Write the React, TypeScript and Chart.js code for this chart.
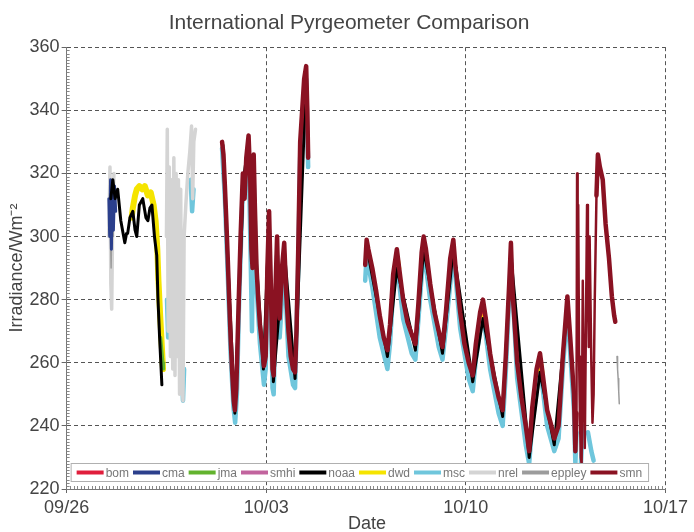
import React, { useEffect, useRef } from "react";
import { Chart, registerables } from "chart.js";

Chart.register(...registerables);

// Time axis: days since 09/26 00:00
const tickDays = [0, 7, 14, 21];
const tickLabels = ["09/26", "10/03", "10/10", "10/17"];
const yTicks = [220, 240, 260, 280, 300, 320, 340, 360];
const xTitle = "Date";

// ---- instrument records (day, W/m²); null breaks the trace ----
const bomDays = [6.34, 6.38, 6.42, 6.9, 11.54, 11.58, 11.62, 12.0, 14.56, 14.6, 14.64, 15.0, 16.56, 16.6, 16.64];
const bomVals = [326, 330, 324, null, 292, 294, 291, null, 276, 278, 275, null, 259, 261, 258];

const cmaDays = [1.48, 1.51, 1.54, 1.57, 1.6, 1.64, 1.68, 1.72];
const cmaVals = [312, 300, 318, 296, 315, 302, 316, 308];

const jmaDays = [3.3, 3.34, 3.38, 3.4];
const jmaVals = [268, 264, 260, 258];

const smhiDays = [12.48, 12.52, 12.56, 13.0, 13.52, 13.56, 13.6];
const smhiVals = [297, 298, 295, null, 296, 297, 294];

const noaaDays = [
  1.55, 1.62, 1.7, 1.79, 1.9, 2.0, 2.04, 2.1, 2.14, 2.22, 2.32, 2.4, 2.46, 2.55, 2.67, 2.78, 2.85, 2.92,
  2.99, 3.08, 3.16, 3.2, 3.26, 3.34, 4.0,
  5.48, 5.6, 5.9, 6.2, 6.38, 6.9, 7.1, 7.25, 7.63, 8.01, 8.4, 9.0,
  10.52, 11.25, 11.58, 12.23, 12.52, 13.18, 13.56, 14.24, 14.6, 15.29, 15.58, 16.22, 16.6, 17.1, 17.56,
];
const noaaVals = [
  312, 318, 312, 315, 305, 300, 298, 301, 301, 306, 308, 302, 300, 310, 312, 306, 305, 309,
  310, 300, 294, 281, 268, 253, null,
  329, 302, 244, 318, 330, 258, 305, 254, 296, 255, 352, null,
  297, 262, 290, 264, 296, 263, 296, 254, 274, 243, 294, 230, 257, 234, 278,
];

const dwdDays = [
  2.28, 2.32, 2.4, 2.46, 2.55, 2.65, 2.74, 2.85, 2.95, 3.05, 3.12, 3.18, 3.22, 3.28, 3.34, 3.38, 4.0,
  11.53, 11.58, 11.63, 12.0, 14.55, 14.6, 14.65, 15.0, 16.55, 16.6, 16.65,
];
const dwdVals = [
  306, 309, 313, 315, 316, 315, 316, 313, 314, 310, 305, 296, 286, 275, 265, 258, null,
  290, 293, 290, null, 275, 277, 274, null, 258, 260, 257,
];

const mscDays = [
  3.52, 3.56, 3.62, 3.7, 3.78, 3.86, 3.95, 4.02, 4.08, 4.12, 4.2, 4.35, 4.4, 4.45, 5.0,
  5.45, 5.55, 5.65, 5.75, 5.85, 5.91, 5.97, 6.05, 6.18, 6.3, 6.38, 6.46, 6.5, 6.56, 6.66, 6.78, 6.92,
  6.98, 7.1, 7.22, 7.26, 7.38, 7.47, 7.63, 7.78, 7.94, 8.01, 8.12, 8.19, 8.3, 8.4, 8.47, 9.0,
  10.47, 10.52, 10.72, 10.98, 11.25, 11.34, 11.45, 11.58, 11.8, 12.1, 12.23, 12.33, 12.52, 12.75,
  13.05, 13.18, 13.3, 13.56, 13.8, 14.1, 14.24, 14.35, 14.6, 14.85, 15.15, 15.29, 15.4, 15.58, 15.8,
  16.1, 16.22, 16.33, 16.6, 16.85, 17.1, 17.25, 17.4, 17.56, 17.79, 17.84, 17.88, 18.0, 18.03, 18.1,
  18.2, 18.28, 18.4, 18.48,
];
const mscVals = [
  280, 268, 275, 268, 280, 270, 272, 262, 248, 258, null, 318, 308, 315, null,
  328, 312, 288, 263, 246, 241, 250, 280, 316, 320, 328, 290, 270, 318, 284, 266, 253,
  258, 302, 252, 250, 294, 268, 292, 262, 253, 252, 290, 325, 340, 350, 322, null,
  286, 294, 284, 268, 258, 266, 283, 292, 274, 263, 261, 273, 296, 280,
  265, 261, 271, 295, 271, 255, 251, 261, 276, 258, 244, 240, 257, 293, 255,
  234, 228, 241, 259, 240, 232, 236, 258, 277, 245, 228, 238, null, 227, 240,
  null, 238, 232, 229,
];

const nrelDays = [
  1.48, 1.52, 1.55, 1.58, 1.62, 1.66, 2.0,
  3.5, 3.53, 3.56, 3.6, 3.64, 3.68, 3.72, 3.76, 3.8, 3.84, 3.88, 3.92, 3.96, 4.0, 4.04, 4.08, 4.12,
  4.18, 4.25, 4.32, 4.38, 4.42, 4.46, 4.52,
];
const nrelVals = [
  300, 322, 285, 277, 310, 320, null,
  300, 334, 270, 322, 262, 318, 258, 325, 256, 320, 262, 318, 250, 315, 255, 248, 300,
  310, 320, 327, 335, 312, 330, 334,
];

const eppleyDays = [1.52, 1.56, 1.6, 1.64, 2.0, 19.3, 19.32, 19.34, 19.36, 19.38];
const eppleyVals = [308, 290, 315, 300, null, 262, 258, 255, 251, 247];

const smnDays = [
  5.45, 5.5, 5.55, 5.6, 5.65, 5.7, 5.75, 5.8, 5.86, 5.9, 5.95, 6.02, 6.1, 6.18, 6.24, 6.3, 6.38, 6.44,
  6.48, 6.52, 6.56, 6.6, 6.66, 6.72, 6.78, 6.85, 6.92, 6.98, 7.04, 7.1, 7.16, 7.22, 7.26, 7.32, 7.38,
  7.43, 7.47, 7.55, 7.63, 7.7, 7.78, 7.86, 7.94, 8.01, 8.06, 8.12, 8.19, 8.26, 8.33, 8.4, 8.44, 8.47,
  9.0,
  10.47, 10.52, 10.58, 10.72, 10.85, 10.98, 11.12, 11.25, 11.34, 11.45, 11.58, 11.66, 11.8, 11.95,
  12.1, 12.23, 12.33, 12.45, 12.52, 12.6, 12.75, 12.9, 13.05, 13.18, 13.3, 13.45, 13.56, 13.64, 13.8,
  13.95, 14.1, 14.24, 14.35, 14.5, 14.6, 14.7, 14.85, 15.0, 15.15, 15.29, 15.4, 15.52, 15.58, 15.64,
  15.8, 15.95, 16.1, 16.22, 16.33, 16.48, 16.6, 16.7, 16.85, 17.0, 17.1, 17.25, 17.4, 17.56, 17.66,
  17.79, 17.84, 17.88, 17.9, 17.92, 17.94, 17.97, 18.0, 18.03, 18.06, 18.1, 18.13, 18.17, 18.25, 18.28,
  18.31, 18.34, 18.4, 18.44, 18.48, 18.52, 18.58, 18.63, 18.7, 18.8, 18.9, 19.02, 19.12, 19.2, 19.24,
];
const smnVals = [
  330, 326, 316, 305, 293, 280, 268, 258, 248, 245, 252, 275, 300, 320, 312, 325, 332, 318,
  296, 290, 326, 310, 290, 280, 272, 266, 259, 262, 290, 308, 285, 258, 256, 282, 300,
  280, 274, 290, 298, 282, 270, 262, 258, 257, 270, 295, 330, 340, 350, 354, 340, 325,
  null,
  291, 299, 296, 290, 283, 275, 268, 264, 272, 288, 296, 290, 280, 273,
  269, 266, 278, 295, 300, 296, 285, 276, 270, 265, 276, 293, 299, 290, 276,
  266, 260, 256, 266, 276, 280, 274, 263, 255, 249, 245, 262, 285, 298, 282,
  260, 249, 240, 232, 246, 258, 263, 256, 245, 240, 236, 240, 262, 281, 268,
  250, 232, 244, 320, 290, 310, 262, 243, 230, 228, 286, 260, 233, 310, 290,
  265, 300, 260, 241, 250, 280, 313, 326, 322, 318, 304, 293, 281, 275, 273,
];

// Between these days the smn record is sparse scatter, drawn with a thinner stroke
const smnSparseFrom = 17.85;
const smnSparseTo = 18.55;

const pts = (days: number[], vals: (number | null)[]) => days.map((d, i) => ({ x: d, y: vals[i] }));

const series = [
  { label: "bom", color: "#e01e3c", days: bomDays, vals: bomVals, width: 3, order: 4 },
  { label: "cma", color: "#2b3f8c", days: cmaDays, vals: cmaVals, width: 3, order: 8 },
  { label: "jma", color: "#62b32e", days: jmaDays, vals: jmaVals, width: 3, order: 6 },
  { label: "smhi", color: "#c2649e", days: smhiDays, vals: smhiVals, width: 3, order: 5 },
  { label: "noaa", color: "#000000", days: noaaDays, vals: noaaVals, width: 3, order: 3 },
  { label: "dwd", color: "#f5e400", days: dwdDays, vals: dwdVals, width: 6, order: 7 },
  { label: "msc", color: "#6fc6dc", days: mscDays, vals: mscVals, width: 4.5, order: 11 },
  { label: "nrel", color: "#d4d4d4", days: nrelDays, vals: nrelVals, width: 3.5, order: 10 },
  { label: "eppley", color: "#9c9c9c", days: eppleyDays, vals: eppleyVals, width: 1.5, order: 9 },
  { label: "smn", color: "#8a1222", days: smnDays, vals: smnVals, width: 4.5, order: 1 },
];

const FONT = "'Liberation Sans', Arial, sans-serif";

// Minor ticks along the axes, the boxed legend inside the plot area and the x-axis title
const framePlugin = {
  id: "frame",
  afterDatasetsDraw(chart: any) {
    const { ctx, chartArea } = chart;
    const items = chart.data.datasets;
    ctx.save();
    ctx.font = `12px ${FONT}`;
    const boxL = chartArea.left + 4;
    const boxT = chartArea.bottom - 26;
    const boxH = 18;
    let x = boxL + 6;
    const layout: { x: number; w: number }[] = [];
    items.forEach((ds: any) => {
      const w = ctx.measureText(ds.label).width;
      layout.push({ x, w });
      x += 27 + 2 + w + 4;
    });
    const boxR = x + 2;
    ctx.fillStyle = "#ffffff";
    ctx.fillRect(boxL, boxT, boxR - boxL, boxH);
    ctx.strokeStyle = "#b0b0b0";
    ctx.lineWidth = 1;
    ctx.strokeRect(boxL + 0.5, boxT + 0.5, boxR - boxL, boxH);
    const cy = boxT + boxH / 2 + 0.5;
    items.forEach((ds: any, i: number) => {
      const { x: ix } = layout[i];
      ctx.strokeStyle = ds.borderColor;
      ctx.lineWidth = 4;
      ctx.beginPath();
      ctx.moveTo(ix, cy);
      ctx.lineTo(ix + 27, cy);
      ctx.stroke();
      ctx.fillStyle = "#777";
      ctx.textBaseline = "middle";
      ctx.textAlign = "left";
      ctx.fillText(ds.label, ix + 29, cy + 1);
    });
    ctx.restore();
  },
  afterDraw(chart: any) {
    const { ctx, chartArea, scales } = chart;
    ctx.save();
    ctx.strokeStyle = "#888";
    ctx.lineWidth = 1;
    ctx.beginPath();
    for (let v = 221; v < 360; v++) {
      if (v % 20 === 0) continue;
      const y = Math.round(scales.y.getPixelForValue(v)) + 0.5;
      ctx.moveTo(chartArea.left, y);
      ctx.lineTo(chartArea.left + 3, y);
    }
    for (let d = 0.125; d < 21; d += 0.125) {
      if (Math.abs(d % 7) < 1e-6) continue;
      const px = Math.round(scales.x.getPixelForValue(d)) + 0.5;
      ctx.moveTo(px, chartArea.bottom);
      ctx.lineTo(px, chartArea.bottom - 3);
    }
    ctx.stroke();
    ctx.fillStyle = "#444";
    ctx.font = `18px ${FONT}`;
    ctx.textAlign = "center";
    ctx.textBaseline = "middle";
    ctx.fillText(xTitle, (chartArea.left + chartArea.right) / 2 + 1, chartArea.bottom + 35);
    ctx.restore();
  },
};

export default function App() {
  const canvasRef = useRef<HTMLCanvasElement | null>(null);

  useEffect(() => {
    document.body.style.margin = "0";
    const canvas = canvasRef.current;
    if (!canvas) return;
    const chart = new Chart(canvas, {
      type: "line",
      data: {
        datasets: series.map((s) => ({
          label: s.label,
          data: pts(s.days, s.vals),
          borderColor: s.color,
          backgroundColor: s.color,
          borderWidth: s.width,
          pointRadius: 0,
          tension: 0,
          spanGaps: false,
          order: s.order,
          borderJoinStyle: "round" as const,
          borderCapStyle: "round" as const,
          segment:
            s.label === "smn"
              ? { borderWidth: (c: any) => (c.p0.parsed.x >= smnSparseFrom && c.p0.parsed.x < smnSparseTo ? 2.5 : undefined) }
              : undefined,
        })),
      },
      options: {
        animation: false,
        responsive: false,
        maintainAspectRatio: false,
        parsing: false as any,
        layout: { padding: { top: 6, right: 2, left: 6, bottom: 9 } },
        plugins: {
          legend: { display: false },
          tooltip: { enabled: false },
          title: {
            display: true,
            text: "International Pyrgeometer Comparison",
            color: "#444",
            font: { family: FONT, size: 21, weight: "normal" },
            padding: { top: 5, bottom: 11 },
          },
        },
        scales: {
          x: {
            type: "linear",
            min: 0,
            max: 21,
            afterBuildTicks: (axis: any) => {
              axis.ticks = tickDays.map((v) => ({ value: v }));
            },
            ticks: {
              color: "#444",
              font: { family: FONT, size: 18, lineHeight: 1 },
              padding: 6,
              maxRotation: 0,
              callback: (v: any) => tickLabels[tickDays.indexOf(Number(v))] ?? "",
            },
            grid: {
              color: "#555",
              lineWidth: 1,
              drawTicks: true,
              tickLength: 4,
              tickColor: "#666",
              tickBorderDash: [],
            },
            border: { display: true, color: "#777", width: 1, dash: [4, 3] },
            title: { display: false },
          },
          y: {
            type: "linear",
            min: 220,
            max: 360,
            afterBuildTicks: (axis: any) => {
              axis.ticks = yTicks.map((v) => ({ value: v }));
            },
            ticks: {
              color: "#444",
              font: { family: FONT, size: 18 },
              padding: 2,
            },
            grid: {
              color: "#555",
              lineWidth: 1,
              drawTicks: true,
              tickLength: 5,
              tickColor: "#666",
              tickBorderDash: [],
            },
            border: { display: true, color: "#777", width: 1, dash: [4, 3] },
            title: {
              display: true,
              text: "Irradiance/Wm⁻²",
              color: "#444",
              font: { family: FONT, size: 18 },
              padding: { top: 0, bottom: 0 },
            },
          },
        },
      },
      plugins: [framePlugin],
    });
    return () => chart.destroy();
  }, []);

  return (
    <div style={{ width: 694, height: 532, background: "#fff" }}>
      <canvas ref={canvasRef} width={694} height={532} style={{ display: "block" }} />
    </div>
  );
}
